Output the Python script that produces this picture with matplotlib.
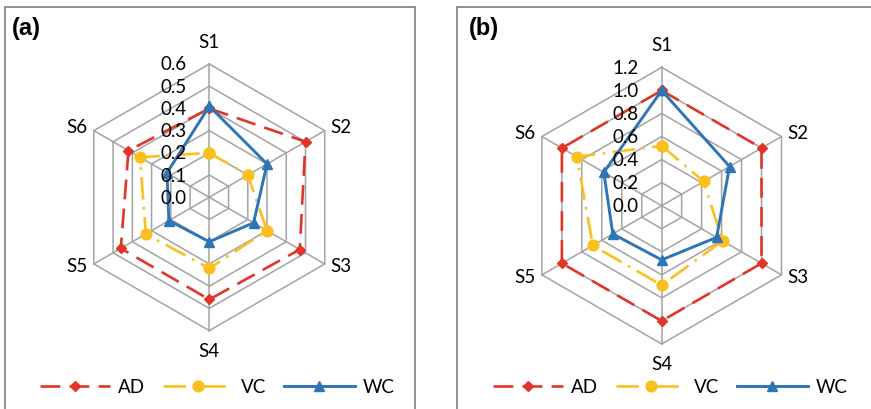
import matplotlib
matplotlib.use('Agg')
import matplotlib.pyplot as plt
import numpy as np
from matplotlib.lines import Line2D

plt.rcParams['font.family'] = ['Lato', 'DejaVu Sans']

W, H = 871, 410

cats = ['S1', 'S2', 'S3', 'S4', 'S5', 'S6']
series = ['AD', 'VC', 'WC']

# (a)
ad_a = [0.40, 0.50, 0.47, 0.46, 0.46, 0.42]
vc_a = [0.20, 0.20, 0.30, 0.32, 0.33, 0.36]
wc_a = [0.41, 0.30, 0.23, 0.20, 0.21, 0.22]
ticks_a = [0.0, 0.1, 0.2, 0.3, 0.4, 0.5, 0.6]

# (b)
ad_b = [1.00, 1.00, 1.00, 1.00, 1.00, 1.00]
vc_b = [0.52, 0.42, 0.61, 0.69, 0.69, 0.85]
wc_b = [1.00, 0.68, 0.55, 0.47, 0.49, 0.58]
ticks_b = [0.0, 0.2, 0.4, 0.6, 0.8, 1.0, 1.2]

red = '#E2352A'
yellow = '#FCC01E'
blue = '#2E75B6'
grid_c = '#A3A3A3'

styles = {
    'AD': dict(color=red, lw=1.9, dashes=(7.5, 3.5), marker='D', ms=5.0),
    'VC': dict(color=yellow, lw=1.9, dashes=(8.5, 2.8, 1.0, 2.8), marker='o', ms=7.8),
    'WC': dict(color=blue, lw=2.1, ls='-', marker='^', ms=7.5),
}

fig = plt.figure(figsize=(W / 100, H / 100), dpi=100)

# panel frames
def frame(x0, y0, x1, y1):
    for xs, ys in [([x0, x0], [y0, y1]), ([x0, x1], [y0, y0]), ([x1, x1], [y0, y1])]:
        fig.add_artist(Line2D([x / W for x in xs], [1 - y / H for y in ys],
                              color='#8A8A8A', lw=1.3))

frame(5, 8, 415, 420)
frame(457, 8, 880, 420)

angles = np.deg2rad([90, 30, -30, -90, -150, 150])
lab_off = [(0, 14, 'center', 'bottom'), (6, 4, 'left', 'center'), (6, -2, 'left', 'center'),
           (0, -11, 'center', 'top'), (-6, -2, 'right', 'center'), (-6, 4, 'right', 'center')]


def closed(a):
    return np.append(a, a[0])


def radar(cx, cy, rpx, ticks, data, tag, tagx, legx):
    vmax = ticks[-1]
    h = 175
    ax = fig.add_axes([(cx - h) / W, 1 - (cy + h) / H, 2 * h / W, 2 * h / H])
    lim = h / rpx * vmax
    ax.set_xlim(-lim, lim)
    ax.set_ylim(-lim, lim)
    ax.axis('off')
    c = np.cos(angles)
    s = np.sin(angles)
    # hexagon rings
    for t in ticks[1:]:
        ax.plot(closed(t * c), closed(t * s), color=grid_c, lw=1.1, zorder=1)
    for i in range(6):
        ax.plot([0, vmax * c[i]], [0, vmax * s[i]], color=grid_c, lw=1.1, zorder=1)
    # radial tick labels
    for t in ticks:
        ax.annotate('%.1f' % t, xy=(0, t), xytext=(-23, 0), textcoords='offset pixels',
                    ha='right', va='center', fontsize=13.5, zorder=5)
    # category labels
    for i, name in enumerate(cats):
        dx, dy, ha, va = lab_off[i]
        ax.annotate(name, xy=(vmax * c[i], vmax * s[i]), xytext=(dx, dy),
                    textcoords='offset pixels', ha=ha, va=va, fontsize=13.5)
    handles = []
    for name, vals in zip(series, data):
        v = np.array(vals)
        ln, = ax.plot(closed(v * c), closed(v * s), label=name, zorder=3, **styles[name])
        handles.append(ln)
    fig.text(tagx / W, 1 - 29 / H, tag, family='Liberation Sans', weight='bold',
             fontsize=17, ha='left', va='center')
    fig.legend(handles=handles, loc='center', bbox_to_anchor=(legx / W, 1 - 388 / H),
               ncol=3, frameon=False, fontsize=13.5, handlelength=3.75,
               handletextpad=0.43, columnspacing=0.95, numpoints=1)


radar(209.3, 198.3, 133.3, ticks_a, [ad_a, vc_a, wc_a], '(a)', 12, 217)
radar(661.7, 206.7, 138.3, ticks_b, [ad_b, vc_b, wc_b], '(b)', 469, 670)

fig.savefig('out.png', dpi=100)
